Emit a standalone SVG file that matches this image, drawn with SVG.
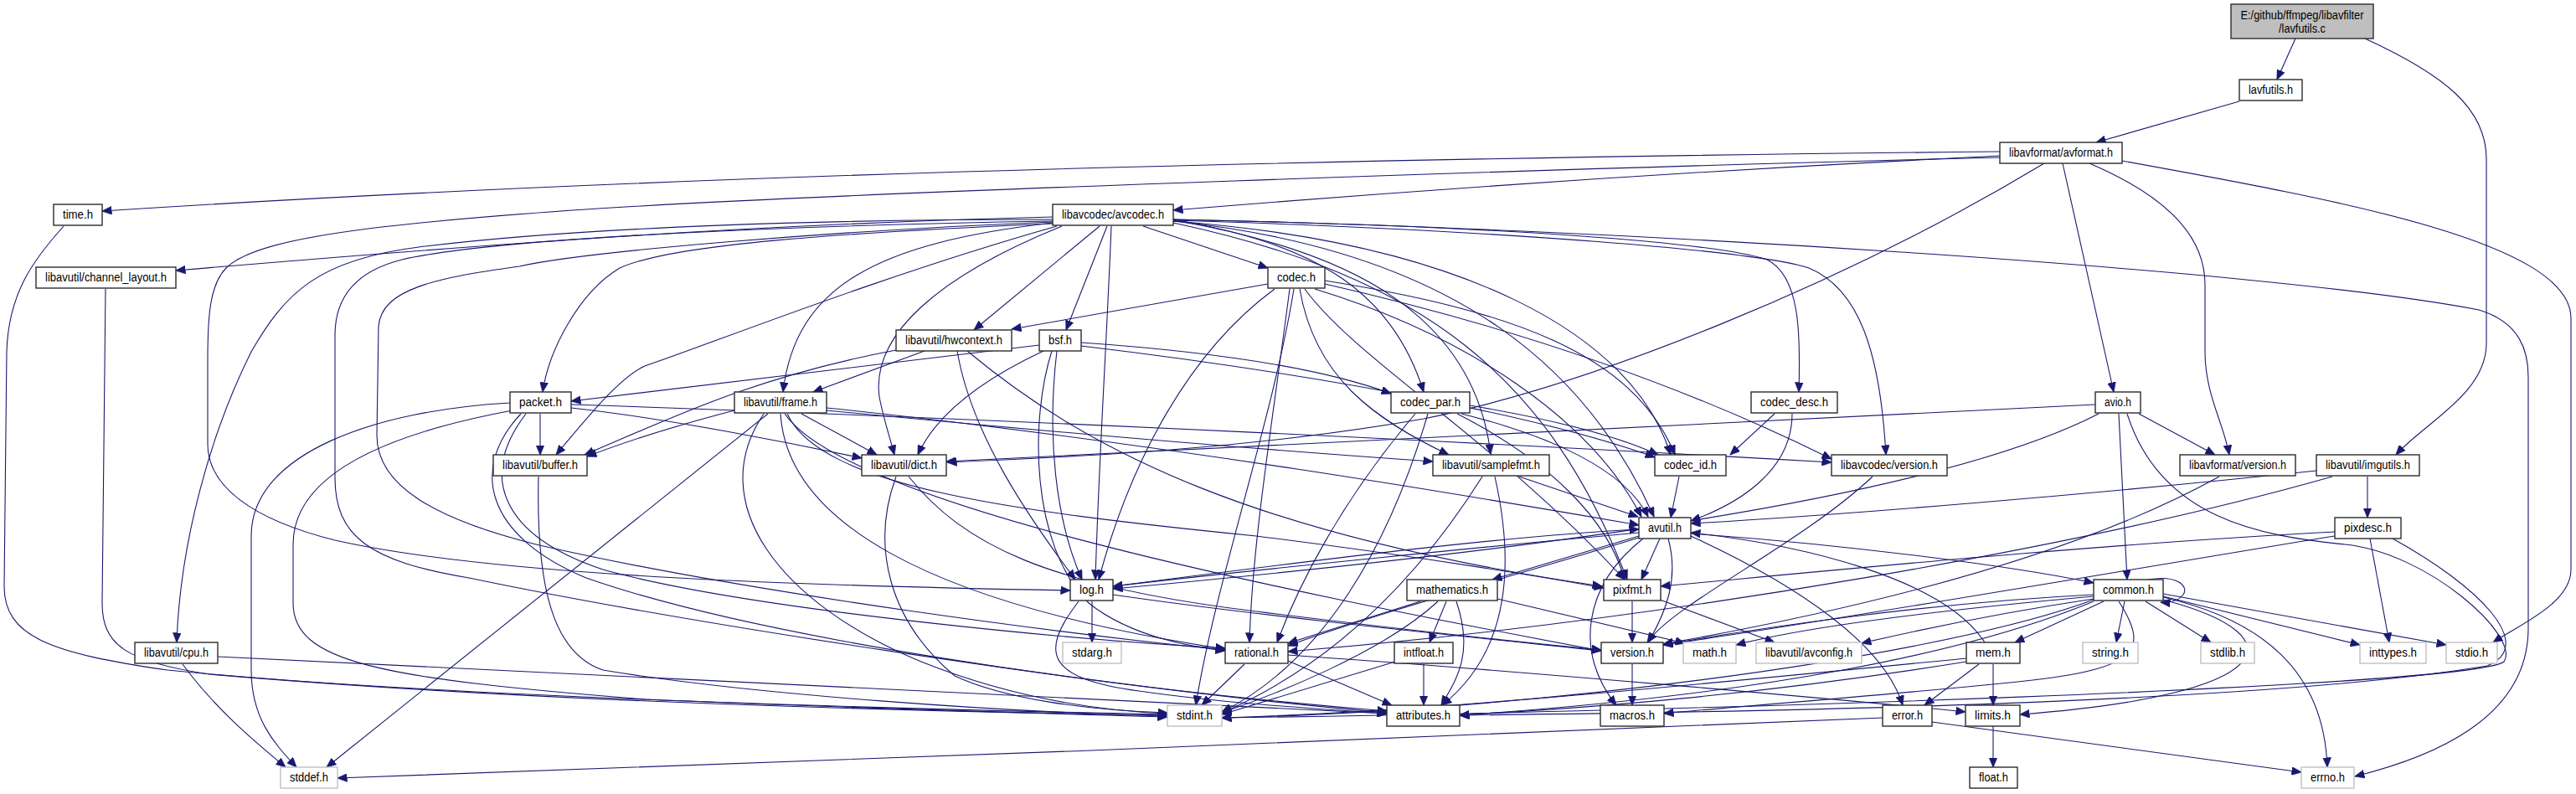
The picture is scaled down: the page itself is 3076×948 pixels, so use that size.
<svg xmlns="http://www.w3.org/2000/svg" width="3076" height="948" viewBox="0 0 3076 948">
<style>
.n rect{fill:#fff;stroke:#2b2b2b;stroke-width:1.4}
.x rect{stroke:#c0c0c0}
.r rect{fill:#bfbfbf}
text{font-family:"Liberation Sans",Arial,sans-serif;font-size:14px;text-anchor:middle;fill:#000}
#edges path{fill:none;stroke:#191970;stroke-width:1.1;marker-end:url(#ah)}
</style>
<defs>
<marker id="ah" markerUnits="userSpaceOnUse" markerWidth="12" markerHeight="10" viewBox="0 0 12 10" refX="11.5" refY="5" orient="auto"><path d="M0,0 L12,5 L0,10 z" fill="#191970" stroke="#191970" stroke-width="0.5"/></marker>
</defs>
<rect width="3076" height="948" fill="#fff"/>
<g id="edges">
<path d="M2741,46 L2719,95"/>
<path d="M2824,46 C2920,90 2969,130 2969,190 L2969,410 C2969,470 2895,505 2861,543"/>
<path d="M2674,121 L2503,170"/>
<path d="M2388,181 Q1000,195 122,252"/>
<path d="M2388,186 Q1900,210 1401,251"/>
<path d="M2441,195 C2200,340 1900,460 1700,500 C1500,535 1300,545 1131,552"/>
<path d="M2388,188 C1900,200 1000,230 700,250 C400,270 300,290 270,320 C250,340 248,380 248,430 L248,530 C248,580 300,620 400,645 C600,690 1000,700 1278,705"/>
<path d="M2463,195 L2524,468"/>
<path d="M2495,195 C2600,240 2633,290 2633,340 L2633,420 C2633,470 2655,505 2662,543"/>
<path d="M2534,192 C2800,240 3070,290 3070,380 L3070,680 C3070,720 3010,745 2977,767"/>
<path d="M1401,262 C1900,272 2700,320 2960,370 C3010,385 3019,420 3019,450 L3019,750 C3019,860 2900,905 2812,927"/>
<path d="M1401,263 C1620,300 1760,380 1780,542"/>
<path d="M1257,264 C1000,268 600,282 480,310 C420,325 400,360 400,400 L400,570 C400,640 440,670 560,690 C800,740 1300,820 1656,851"/>
<path d="M1401,264 C1750,300 1900,450 1975,617"/>
<path d="M1262,270 C1050,330 850,410 770,437 C740,450 700,500 664,543"/>
<path d="M1257,262 C1000,262 700,270 500,295 C380,310 340,350 300,420 C250,520 215,650 211,767"/>
<path d="M1257,259 C900,268 600,290 210,323"/>
<path d="M1268,270 C1120,330 1040,400 1050,474 C1055,500 1062,520 1068,543"/>
<path d="M1257,266 C1050,290 950,340 935,468"/>
<path d="M1313,270 L1163,394"/>
<path d="M1327,270 C1322,400 1312,550 1308,692"/>
<path d="M1401,266 C1700,330 1850,450 1943,692"/>
<path d="M1257,265 C1000,275 700,300 620,318 C520,332 455,345 452,390 L450,520 C450,580 520,620 640,650 C900,710 1300,760 1463,776"/>
<path d="M1322,270 L1273,394"/>
<path d="M1365,270 L1514,320"/>
<path d="M1401,262 C1800,270 2050,290 2110,310 C2150,330 2150,400 2148,468"/>
<path d="M1401,262 C1560,290 1660,340 1700,468"/>
<path d="M1401,264 C1750,290 1950,400 1995,543"/>
<path d="M1257,267 C1000,278 800,292 740,320 C690,350 655,420 648,468"/>
<path d="M1401,263 C1800,275 2100,300 2160,320 C2220,345 2245,420 2252,543"/>
<path d="M76,270 C40,310 10,350 8,420 L5,700 C5,760 60,780 200,800 C500,830 1000,845 1394,853"/>
<path d="M126,345 L122,720 C122,770 150,790 250,805 C600,835 1000,848 1394,854"/>
<path d="M1545,345 C1520,500 1450,700 1428,842"/>
<path d="M1540,345 C1520,500 1495,650 1492,767"/>
<path d="M1570,345 C1750,400 1900,500 1960,617"/>
<path d="M1558,345 C1620,430 1780,520 1940,692"/>
<path d="M1552,345 C1570,450 1640,500 1730,543"/>
<path d="M1582,335 C1800,370 1950,420 2000,543"/>
<path d="M1582,339 C1850,400 2050,480 2187,548"/>
<path d="M1514,339 L1208,393"/>
<path d="M1522,345 C1420,420 1350,550 1312,692"/>
<path d="M1070,418 C900,450 800,500 698,543"/>
<path d="M1104,419 L971,468"/>
<path d="M1143,419 C1160,520 1230,620 1284,692"/>
<path d="M1155,419 C1300,540 1500,640 1913,700"/>
<path d="M1246,419 C1180,450 1120,490 1096,543"/>
<path d="M1262,419 C1250,520 1260,620 1292,692"/>
<path d="M1256,419 C1230,500 1230,650 1300,720 C1350,760 1420,772 1463,777"/>
<path d="M1291,413 C1600,450 1850,500 1976,546"/>
<path d="M1291,409 C1450,420 1580,440 1661,470"/>
<path d="M1241,412 C1000,440 800,465 682,479"/>
<path d="M609,481 C450,490 300,540 300,640 L300,800 C300,860 330,890 354,916"/>
<path d="M612,490 C450,520 350,570 350,650 L350,720 C350,790 450,810 770,835 C1000,845 1250,852 1394,856"/>
<path d="M622,494 C560,560 580,640 700,690 C900,760 1300,820 1656,849"/>
<path d="M645,494 L645,543"/>
<path d="M682,487 C800,500 950,530 1029,547"/>
<path d="M628,494 C570,570 600,640 720,680 C900,730 1300,765 1463,774"/>
<path d="M682,483 C1200,500 1800,530 2187,552"/>
<path d="M917,494 L390,916"/>
<path d="M912,494 C840,600 930,720 1100,790 C1200,830 1300,848 1394,852"/>
<path d="M987,487 C1400,530 1800,600 1957,627"/>
<path d="M877,490 C800,510 740,530 701,545"/>
<path d="M957,494 L1047,543"/>
<path d="M932,494 C940,620 1100,720 1463,775"/>
<path d="M987,490 C1300,520 1550,540 1711,551"/>
<path d="M940,494 C980,580 1200,610 1500,640 C1700,665 1850,690 1915,702"/>
<path d="M937,494 C1010,600 1500,700 1912,777"/>
<path d="M1705,494 C1660,650 1580,790 1459,850"/>
<path d="M1690,494 C1600,600 1550,700 1525,767"/>
<path d="M1745,494 C1850,520 1940,560 1968,617"/>
<path d="M1740,494 C1850,550 1920,620 1940,692"/>
<path d="M1755,484 C1850,500 1930,520 1980,543"/>
<path d="M2119,494 L2066,543"/>
<path d="M2140,494 C2140,560 2080,600 2019,622"/>
<path d="M2540,494 C2580,620 2700,640 2800,650 C2900,660 3010,760 2990,790 C2950,820 2000,850 1459,857"/>
<path d="M2530,494 L2540,692"/>
<path d="M2502,483 C2000,510 1500,535 1130,551"/>
<path d="M2506,494 C2300,600 1800,660 1329,703"/>
<path d="M2554,494 L2645,543"/>
<path d="M1070,569 C1040,650 1060,740 1140,807 C1200,835 1300,848 1394,851"/>
<path d="M1085,569 C1150,650 1250,700 1500,730 C1700,755 1850,770 1912,776"/>
<path d="M1814,569 L1956,617"/>
<path d="M1785,569 C1810,680 1800,780 1722,842"/>
<path d="M1770,569 C1700,680 1600,790 1459,851"/>
<path d="M2005,569 L1995,618"/>
<path d="M2236,569 C2150,650 2000,720 1967,767"/>
<path d="M2650,569 C2450,680 2150,740 1986,769"/>
<path d="M2766,562 C2500,590 2200,615 2019,625"/>
<path d="M2827,569 L2827,618"/>
<path d="M2785,569 C2500,650 2000,740 1538,778"/>
<path d="M2019,637 C2200,650 2400,675 2500,696"/>
<path d="M2019,640 C2150,700 2250,770 2272,842"/>
<path d="M1962,643 C1890,700 1880,780 1930,842"/>
<path d="M1957,640 L1782,692"/>
<path d="M1957,642 C1800,690 1650,730 1538,771"/>
<path d="M1992,643 C2005,690 1990,730 1968,767"/>
<path d="M1957,636 C1800,650 1500,680 1329,700"/>
<path d="M1982,643 L1960,692"/>
<path d="M2830,643 L2853,767"/>
<path d="M2857,643 C2960,700 3030,770 2970,795 C2700,840 2100,850 1743,854"/>
<path d="M2788,635 C2500,650 2200,680 1983,700"/>
<path d="M2788,640 C2600,670 2200,740 1986,770"/>
<path d="M1304,718 L1304,767"/>
<path d="M1329,700 C1600,665 1800,640 1957,632"/>
<path d="M1288,718 C1240,780 1250,810 1360,825 C1450,838 1550,845 1656,852"/>
<path d="M1329,710 C1500,735 1750,760 1912,777"/>
<path d="M1717,718 C1650,780 1520,830 1459,851"/>
<path d="M1788,715 L2012,768"/>
<path d="M1739,718 C1760,780 1740,810 1721,842"/>
<path d="M1696,718 L1538,768"/>
<path d="M1727,718 L1707,767"/>
<path d="M1982,716 L2119,767"/>
<path d="M1949,718 L1949,767"/>
<path d="M2583,713 C2700,740 2775,800 2779,916"/>
<path d="M2583,712 L2818,770"/>
<path d="M2583,716 C2750,760 2720,830 2412,853"/>
<path d="M2500,712 C2300,730 2150,750 2073,770"/>
<path d="M2500,716 C2300,790 1800,850 1459,857"/>
<path d="M2583,709 L2921,770"/>
<path d="M2562,718 L2640,767"/>
<path d="M2537,718 L2527,767"/>
<path d="M2500,718 C2350,780 2100,830 1743,854"/>
<path d="M2530,718 C2570,780 2550,800 2400,815 C2200,835 2050,845 1987,852"/>
<path d="M2500,710 C2300,720 2100,750 1986,770"/>
<path d="M2500,715 C2400,730 2300,750 2223,768"/>
<path d="M2512,718 L2406,767"/>
<path d="M2565,692 C2600,686 2614,700 2607,710 C2601,718 2592,720 2580,719"/>
<path d="M218,793 C260,850 310,890 341,916"/>
<path d="M260,784 C700,805 1200,830 1656,852"/>
<path d="M1486,793 L1435,842"/>
<path d="M1538,782 C1800,800 2200,835 2347,850"/>
<path d="M1538,789 L1662,842"/>
<path d="M1666,790 L1459,853"/>
<path d="M1700,793 L1700,842"/>
<path d="M1949,793 L1949,842"/>
<path d="M2370,767 C2320,690 2150,650 2019,636"/>
<path d="M2348,786 C2000,820 1700,850 1459,857"/>
<path d="M2348,790 C2100,830 1900,845 1743,854"/>
<path d="M2363,793 L2298,842"/>
<path d="M2380,793 L2380,842"/>
<path d="M2307,862 L2748,922"/>
<path d="M2248,857 C1800,880 900,910 403,929"/>
<path d="M2380,867 L2380,916"/>
<path d="M643,569 C640,700 660,780 720,800 C900,830 1200,850 1394,855"/>
</g>
<g id="n-root" class="n r"><rect x="2664" y="5" width="170" height="41"/><text x="2749" y="23" textLength="147" lengthAdjust="spacingAndGlyphs">E:/github/ffmpeg/libavfilter</text><text x="2749" y="39" textLength="56" lengthAdjust="spacingAndGlyphs">/lavfutils.c</text></g>
<g id="n-lavfutils_h" class="n"><rect x="2674" y="95" width="75" height="25"/><text x="2711.5" y="112" textLength="53" lengthAdjust="spacingAndGlyphs">lavfutils.h</text></g>
<g id="n-avformat" class="n"><rect x="2388" y="170" width="146" height="25"/><text x="2461" y="187" textLength="124" lengthAdjust="spacingAndGlyphs">libavformat/avformat.h</text></g>
<g id="n-time" class="n"><rect x="64" y="244" width="58" height="25"/><text x="93" y="261" textLength="36" lengthAdjust="spacingAndGlyphs">time.h</text></g>
<g id="n-avcodec" class="n"><rect x="1257" y="244" width="144" height="25"/><text x="1329" y="261" textLength="122" lengthAdjust="spacingAndGlyphs">libavcodec/avcodec.h</text></g>
<g id="n-channel_layout" class="n"><rect x="43" y="319" width="167" height="25"/><text x="126.5" y="336" textLength="145" lengthAdjust="spacingAndGlyphs">libavutil/channel_layout.h</text></g>
<g id="n-codec" class="n"><rect x="1514" y="319" width="68" height="25"/><text x="1548" y="336" textLength="46" lengthAdjust="spacingAndGlyphs">codec.h</text></g>
<g id="n-hwcontext" class="n"><rect x="1070" y="394" width="138" height="25"/><text x="1139" y="411" textLength="116" lengthAdjust="spacingAndGlyphs">libavutil/hwcontext.h</text></g>
<g id="n-bsf" class="n"><rect x="1241" y="394" width="50" height="25"/><text x="1266" y="411" textLength="28" lengthAdjust="spacingAndGlyphs">bsf.h</text></g>
<g id="n-packet" class="n"><rect x="609" y="468" width="73" height="25"/><text x="645.5" y="485" textLength="51" lengthAdjust="spacingAndGlyphs">packet.h</text></g>
<g id="n-frame" class="n"><rect x="877" y="468" width="110" height="25"/><text x="932" y="485" textLength="88" lengthAdjust="spacingAndGlyphs">libavutil/frame.h</text></g>
<g id="n-codec_par" class="n"><rect x="1661" y="468" width="94" height="25"/><text x="1708" y="485" textLength="72" lengthAdjust="spacingAndGlyphs">codec_par.h</text></g>
<g id="n-codec_desc" class="n"><rect x="2091" y="468" width="103" height="25"/><text x="2142.5" y="485" textLength="81" lengthAdjust="spacingAndGlyphs">codec_desc.h</text></g>
<g id="n-avio" class="n"><rect x="2502" y="468" width="54" height="25"/><text x="2529" y="485" textLength="32" lengthAdjust="spacingAndGlyphs">avio.h</text></g>
<g id="n-buffer" class="n"><rect x="589" y="543" width="112" height="25"/><text x="645" y="560" textLength="90" lengthAdjust="spacingAndGlyphs">libavutil/buffer.h</text></g>
<g id="n-dict" class="n"><rect x="1029" y="543" width="101" height="25"/><text x="1079.5" y="560" textLength="79" lengthAdjust="spacingAndGlyphs">libavutil/dict.h</text></g>
<g id="n-samplefmt" class="n"><rect x="1711" y="543" width="139" height="25"/><text x="1780.5" y="560" textLength="117" lengthAdjust="spacingAndGlyphs">libavutil/samplefmt.h</text></g>
<g id="n-codec_id" class="n"><rect x="1976" y="543" width="85" height="25"/><text x="2018.5" y="560" textLength="63" lengthAdjust="spacingAndGlyphs">codec_id.h</text></g>
<g id="n-avc_version" class="n"><rect x="2187" y="543" width="138" height="25"/><text x="2256" y="560" textLength="116" lengthAdjust="spacingAndGlyphs">libavcodec/version.h</text></g>
<g id="n-avf_version" class="n"><rect x="2603" y="543" width="138" height="25"/><text x="2672" y="560" textLength="116" lengthAdjust="spacingAndGlyphs">libavformat/version.h</text></g>
<g id="n-imgutils" class="n"><rect x="2766" y="543" width="123" height="25"/><text x="2827.5" y="560" textLength="101" lengthAdjust="spacingAndGlyphs">libavutil/imgutils.h</text></g>
<g id="n-avutil" class="n"><rect x="1957" y="618" width="62" height="25"/><text x="1988" y="635" textLength="40" lengthAdjust="spacingAndGlyphs">avutil.h</text></g>
<g id="n-pixdesc" class="n"><rect x="2788" y="618" width="79" height="25"/><text x="2827.5" y="635" textLength="57" lengthAdjust="spacingAndGlyphs">pixdesc.h</text></g>
<g id="n-log" class="n"><rect x="1278" y="692" width="51" height="25"/><text x="1303.5" y="709" textLength="29" lengthAdjust="spacingAndGlyphs">log.h</text></g>
<g id="n-mathematics" class="n"><rect x="1680" y="692" width="108" height="25"/><text x="1734" y="709" textLength="86" lengthAdjust="spacingAndGlyphs">mathematics.h</text></g>
<g id="n-pixfmt" class="n"><rect x="1915" y="692" width="68" height="25"/><text x="1949" y="709" textLength="46" lengthAdjust="spacingAndGlyphs">pixfmt.h</text></g>
<g id="n-common" class="n"><rect x="2500" y="692" width="83" height="25"/><text x="2541.5" y="709" textLength="61" lengthAdjust="spacingAndGlyphs">common.h</text></g>
<g id="n-cpu" class="n"><rect x="161" y="767" width="99" height="25"/><text x="210.5" y="784" textLength="77" lengthAdjust="spacingAndGlyphs">libavutil/cpu.h</text></g>
<g id="n-stdarg" class="n x"><rect x="1269" y="767" width="70" height="25"/><text x="1304" y="784" textLength="48" lengthAdjust="spacingAndGlyphs">stdarg.h</text></g>
<g id="n-rational" class="n"><rect x="1463" y="767" width="75" height="25"/><text x="1500.5" y="784" textLength="53" lengthAdjust="spacingAndGlyphs">rational.h</text></g>
<g id="n-intfloat" class="n"><rect x="1665" y="767" width="70" height="25"/><text x="1700" y="784" textLength="48" lengthAdjust="spacingAndGlyphs">intfloat.h</text></g>
<g id="n-version" class="n"><rect x="1912" y="767" width="74" height="25"/><text x="1949" y="784" textLength="52" lengthAdjust="spacingAndGlyphs">version.h</text></g>
<g id="n-math" class="n x"><rect x="2010" y="767" width="63" height="25"/><text x="2041.5" y="784" textLength="41" lengthAdjust="spacingAndGlyphs">math.h</text></g>
<g id="n-avconfig" class="n x"><rect x="2097" y="767" width="126" height="25"/><text x="2160" y="784" textLength="104" lengthAdjust="spacingAndGlyphs">libavutil/avconfig.h</text></g>
<g id="n-mem" class="n"><rect x="2348" y="767" width="64" height="25"/><text x="2380" y="784" textLength="42" lengthAdjust="spacingAndGlyphs">mem.h</text></g>
<g id="n-string" class="n x"><rect x="2487" y="767" width="66" height="25"/><text x="2520" y="784" textLength="44" lengthAdjust="spacingAndGlyphs">string.h</text></g>
<g id="n-stdlib" class="n x"><rect x="2628" y="767" width="64" height="25"/><text x="2660" y="784" textLength="42" lengthAdjust="spacingAndGlyphs">stdlib.h</text></g>
<g id="n-inttypes" class="n x"><rect x="2818" y="767" width="79" height="25"/><text x="2857.5" y="784" textLength="57" lengthAdjust="spacingAndGlyphs">inttypes.h</text></g>
<g id="n-stdio" class="n x"><rect x="2921" y="767" width="61" height="25"/><text x="2951.5" y="784" textLength="39" lengthAdjust="spacingAndGlyphs">stdio.h</text></g>
<g id="n-stdint" class="n x"><rect x="1394" y="842" width="65" height="25"/><text x="1426.5" y="859" textLength="43" lengthAdjust="spacingAndGlyphs">stdint.h</text></g>
<g id="n-attributes" class="n"><rect x="1656" y="842" width="87" height="25"/><text x="1699.5" y="859" textLength="65" lengthAdjust="spacingAndGlyphs">attributes.h</text></g>
<g id="n-macros" class="n"><rect x="1911" y="842" width="76" height="25"/><text x="1949" y="859" textLength="54" lengthAdjust="spacingAndGlyphs">macros.h</text></g>
<g id="n-error" class="n"><rect x="2248" y="842" width="59" height="25"/><text x="2277.5" y="859" textLength="37" lengthAdjust="spacingAndGlyphs">error.h</text></g>
<g id="n-limits" class="n"><rect x="2347" y="842" width="65" height="25"/><text x="2379.5" y="859" textLength="43" lengthAdjust="spacingAndGlyphs">limits.h</text></g>
<g id="n-stddef" class="n x"><rect x="335" y="916" width="68" height="25"/><text x="369" y="933" textLength="46" lengthAdjust="spacingAndGlyphs">stddef.h</text></g>
<g id="n-float" class="n"><rect x="2352" y="916" width="57" height="25"/><text x="2380.5" y="933" textLength="35" lengthAdjust="spacingAndGlyphs">float.h</text></g>
<g id="n-errno" class="n x"><rect x="2748" y="916" width="63" height="25"/><text x="2779.5" y="933" textLength="41" lengthAdjust="spacingAndGlyphs">errno.h</text></g>
</svg>
